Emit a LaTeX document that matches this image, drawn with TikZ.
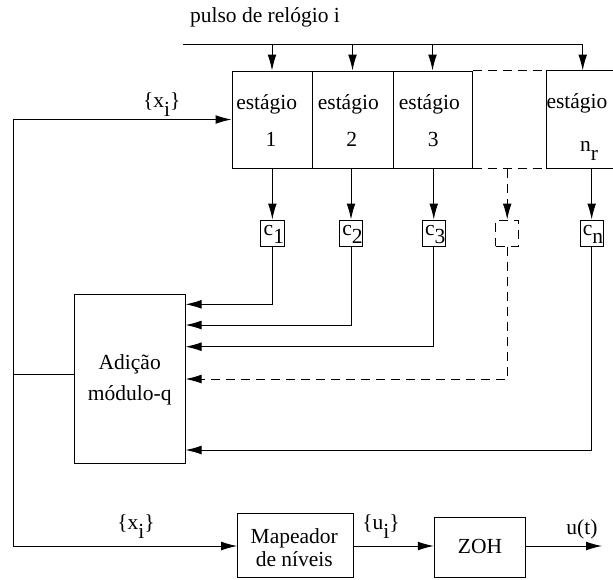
\documentclass[tikz,border=0pt]{standalone}
\usepackage{fontspec}
\setmainfont{Liberation Serif}
\usetikzlibrary{arrows.meta,fit}
\newcommand{\lo}[1]{\raisebox{-4.3pt}{#1}}
\begin{document}
\begin{tikzpicture}[x=0.5pt,y=-0.5pt,
  font=\fontsize{10.75}{13}\selectfont,
  line width=0.5pt,
  arr/.style={-{Latex[length=8pt,width=4.4pt]}},
  box/.style={draw, inner sep=0pt},
  hid/.style={inner sep=0pt},
  dsh/.style={dash pattern=on 4.5pt off 3pt},
  txt/.style={inner sep=0pt, anchor=base}]
\useasboundingbox (0,0) rectangle (613,579);

% clock
\node[txt] (clk) at (265,22.5) {pulso de relógio i};
\coordinate (ck0) at (183,44.3);
\coordinate (ckE) at (582.7,44.3);

% stages
\node[box, fit={(232,71)(312,168)}] (s1) {};
\node[box, fit={(312,71)(393,168)}] (s2) {};
\node[box, fit={(393,71)(472,168)}] (s3) {};
\node[hid, fit={(547,71)(613,168)}] (sn) {};
\draw (sn.north east) -- (sn.north west) -- (sn.south west) -- (sn.south east);
\draw[dsh] (s3.north east) -- (sn.north west);
\draw[dsh] (s3.south east) -- (sn.south west);

\node[txt] (e1) at (266.7,109.5) {estágio};
\node[txt] (e2) at (348.3,109.5) {estágio};
\node[txt] (e3) at (429.3,109.5) {estágio};
\node[txt] (en) at (577,108.5) {estágio};
\node[txt] (n1) at (271,146.5) {1};
\node[txt] (n2) at (351.7,146.5) {2};
\node[txt] (n3) at (433.3,146.5) {3};
\node[txt] (nn) at (589,151.5) {n\lo{r}};

\draw (ck0) -- (ckE);
\draw[arr] (ckE) -- (ckE |- sn.north);
\draw[arr] (s1.north |- ck0) -- (s1.north);
\draw[arr] (s2.north |- ck0) -- (s2.north);
\draw[arr] (s3.north |- ck0) -- (s3.north);

% coefficient boxes
\node[box, fit={(260.7,220)(284.0,246)}] (c1) {};
\node[box, fit={(339.3,220)(362.7,246)}] (c2) {};
\node[box, fit={(422.0,220)(445.5,246)}] (c3) {};
\node[box, dsh, fit={(495.7,220)(518.7,246)}] (cd) {};
\node[box, fit={(580.0,220)(603.3,246)}] (cn) {};
\node[txt, anchor=base west] (t1) at (263.2,235) {c\lo{1}};
\node[txt, anchor=base west] (t2) at (341.8,235) {c\lo{2}};
\node[txt, anchor=base west] (t3) at (424.5,235) {c\lo{3}};
\node[txt, anchor=base west] (tn) at (582.3,235) {c\lo{n}};

\draw[arr] (s1.south -| c1.north) -- (c1.north);
\draw[arr] (s2.south -| c2.north) -- (c2.north);
\draw[arr] (s3.south -| c3.north) -- (c3.north);
\draw[arr, dsh] (s3.south -| cd.north) -- (cd.north);
\draw[arr] (sn.south -| cn.north) -- (cn.north);

% adder
\node[box, fit={(74.3,294.3)(185,463.3)}] (add) {};
\node[txt] (a1) at (129.7,369.3) {Adição};
\node[txt] (a2) at (129.7,400.7) {módulo-q};

\draw[arr] (c1.south) |- (add.east |- 0,304.3);
\draw[arr] (c2.south) |- (add.east |- 0,325);
\draw[arr] (c3.south) |- (add.east |- 0,346.7);
\draw[arr, dsh] (cd.south) |- (add.east |- 0,379);
\draw[arr] (cn.south) |- (add.east |- 0,450);

% feedback
\coordinate (J) at (13.3,374.3);
\draw (add.west |- J) -- (J);
\draw[arr] (J) |- (s1.west);
\node[txt] (xi) at (161.7,107.5) {\{x\lo{i}\}};

% bottom chain
\node[box, fit={(237.7,513.3)(353.3,577.7)}] (map) {};
\node[txt] (m1) at (294.3,543.3) {Mapeador};
\node[txt] (m2) at (294.3,566.7) {de níveis};
\node[box, fit={(434.3,517.3)(525.7,577.3)}] (zoh) {};
\node[txt] (z1) at (480,553.3) {ZOH};
\coordinate (out) at (602,546);

\draw[arr] (J) |- (map.west |- out);
\draw[arr] (map.east |- out) -- (zoh.west |- out);
\draw[arr] (zoh.east |- out) -- (out);

\node[txt] (xb) at (136,529.5) {\{x\lo{i}\}};
\node[txt] (ub) at (381,529.5) {\{u\lo{i}\}};
\node[txt] (ut) at (582,534.5) {u(t)};
\end{tikzpicture}
\end{document}
